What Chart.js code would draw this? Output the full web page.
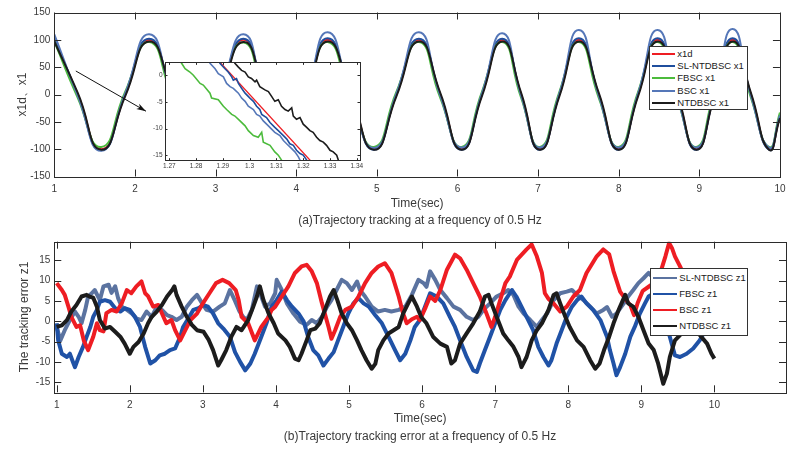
<!DOCTYPE html>
<html>
<head>
<meta charset="utf-8">
<script src="https://cdn.jsdelivr.net/npm/chart.js@4.4.1/dist/chart.umd.min.js"></script>
<style>
  body { margin: 0; background: #fff; }
  #page { position: relative; width: 792px; height: 450px; font-family: 'Liberation Sans', Arial, sans-serif; }
  canvas { position: absolute; }
  .cap { position: absolute; left: 54px; width: 732px; text-align: center; font-size: 12px; line-height: 14px; color: #3a3a3a; }
  .legend { position: absolute; background: #fff; border: 1px solid #333; box-sizing: border-box; }
  .legend .row { position: absolute; left: 0; height: 12px; width: 100%; }
  .legend .sw { position: absolute; top: 5px; height: 2px; }
  .legend .lb { position: absolute; top: 0; font-size: 9.5px; line-height: 12px; white-space: nowrap; color: #1a1a1a; }
</style>
</head>
<body>
<div id="page">
  <canvas id="top" width="792" height="225" style="left:0;top:0"></canvas>
  <canvas id="inset" width="225" height="120" style="left:140px;top:56px"></canvas>
  <div class="cap" style="top:213px">(a)Trajectory tracking at a frequency of 0.5 Hz</div>
  <canvas id="bottom" width="792" height="225" style="left:0;top:225px"></canvas>
  <div class="cap" style="top:429px">(b)Trajectory tracking error at a frequency of 0.5 Hz</div>
  <div class="legend" id="legTop" style="left:649px;top:46px;width:99px;height:64px"></div>
  <div class="legend" id="legBottom" style="left:650px;top:268px;width:98px;height:68px"></div>
</div>
<script>
// (a) x1d / x1 : knots at peaks, zero crossings and troughs
const tTop = [1.0, 1.291, 1.583, 1.88, 2.177, 2.468, 2.76, 3.053, 3.346, 3.608, 3.87, 4.13, 4.391, 4.678, 4.965, 5.244, 5.523, 5.787,
  6.052, 6.304, 6.556, 6.79, 7.023, 7.265, 7.507, 7.753, 7.999, 8.241, 8.483, 8.723, 8.963, 9.188, 9.414, 9.64, 9.865, 10.0];
const x1d = [100, 0, -100, 0, 100, 0, -100, 0, 100, 0, -100, 0, 100, 0, -100, 0, 100, 0, -100, 0, 100, 0, -100, 0,
  100, 0, -100, 0, 100, 0, -100, 0, 100, 0, -100, -40];
const slNtdbscX1 = [102, -1, -102, 1, 102, -1, -101, 1, 102, -1, -101, 1, 103, -1, -101, 1, 102, -1, -101, 1, 102, -1, -101, 1,
  103, -1, -101, 1, 103, -1, -101, 1, 103, -1, -101, -38];
const fbscX1 = [97, -6, -96, 5, 96, -6, -96, 5, 95, -6, -96, 5, 96, -6, -96, 5, 96, -6, -96, 5, 96, -6, -96, 5,
  96, -6, -96, 5, 96, -6, -96, 5, 96, -6, -96, -33];
const bscX1 = [110, -2, -103, 2, 110, -2, -98, 2, 110, -2, -98, 2, 114, -2, -98, 2, 114, -2, -97, 2, 112, -2, -97, 2,
  118, -2, -97, 2, 118, -2, -97, 2, 120, -2, -97, -38];
const ntdbscX1 = [97, 3, -101, -3, 97, 3, -101, -3, 96, 3, -101, -3, 97, 3, -101, -3, 97, 3, -101, -3, 97, 3, -101, -3,
  97, 3, -101, -3, 97, 3, -101, -3, 97, 3, -101, -43];
const xTicksTop = [1, 2, 3, 4, 5, 6, 7, 8, 9, 10];
const yTicksTop = [-150, -100, -50, 0, 50, 100, 150];

// zoomed inset, t = 1.27 .. 1.34
const insetX1d = [[1.2886, 2.6], [1.3231, -16.2]];
const insetSl = [[1.2880, 3.0], [1.2889, 2.25], [1.2908, 1.22], [1.2920, 0.60], [1.2933, -0.31], [1.2939, -0.92], [1.2951, -0.62],
  [1.2958, -1.53], [1.2970, -2.45], [1.2983, -3.36], [1.3001, -4.28], [1.3014, -4.89], [1.3026, -5.81], [1.3038, -6.42],
  [1.3045, -7.33], [1.3063, -7.94], [1.3076, -8.86], [1.3094, -9.77], [1.3107, -10.38], [1.3126, -11.30], [1.3138, -11.91],
  [1.3150, -12.83], [1.3163, -13.13], [1.3175, -14.05], [1.3188, -14.66], [1.3200, -14.96], [1.3213, -15.88], [1.3218, -16.5]];
const insetFbsc = [[1.2735, 3.0], [1.2746, 2.25], [1.2759, 1.22], [1.2777, 0.60], [1.2790, 0.00], [1.2815, -1.53], [1.2827, -1.84],
  [1.2852, -3.36], [1.2858, -4.28], [1.2883, -4.58], [1.2902, -5.80], [1.2914, -6.42], [1.2933, -7.33], [1.2945, -7.64],
  [1.2964, -8.55], [1.2983, -9.47], [1.2995, -10.38], [1.3014, -11.30], [1.3032, -11.60], [1.3045, -10.69], [1.3051, -12.52],
  [1.3076, -13.13], [1.3094, -14.35], [1.3107, -14.96], [1.3119, -15.88], [1.3125, -16.5]];
const insetBsc = [[1.2843, 3.0], [1.2852, 2.25], [1.2871, 1.22], [1.2883, 0.30], [1.2902, -0.31], [1.2914, -1.53], [1.2927, -2.14],
  [1.2939, -2.45], [1.2958, -3.36], [1.2970, -4.28], [1.2983, -4.89], [1.2995, -5.81], [1.3014, -6.42], [1.3026, -7.33],
  [1.3038, -7.64], [1.3051, -8.55], [1.3070, -9.47], [1.3082, -10.08], [1.3094, -10.69], [1.3113, -11.30], [1.3126, -12.22],
  [1.3138, -12.83], [1.3157, -13.74], [1.3169, -14.35], [1.3182, -15.27], [1.3188, -15.88], [1.3192, -16.5]];
const insetNtdbsc = [[1.2936, 3.0], [1.2945, 2.25], [1.2958, 1.52], [1.2970, 0.91], [1.2983, 0.60], [1.2995, -0.31], [1.3007, -0.62],
  [1.3020, -1.23], [1.3026, -0.92], [1.3038, -2.14], [1.3057, -2.75], [1.3070, -3.06], [1.3082, -3.97], [1.3094, -4.89],
  [1.3107, -4.58], [1.3119, -5.81], [1.3132, -6.42], [1.3144, -6.72], [1.3157, -6.11], [1.3163, -7.64], [1.3175, -8.25],
  [1.3188, -7.94], [1.3200, -9.16], [1.3213, -9.77], [1.3225, -10.38], [1.3237, -10.69], [1.3250, -11.60], [1.3262, -12.22],
  [1.3275, -12.52], [1.3287, -13.13], [1.3300, -14.05], [1.3312, -14.35], [1.3325, -14.96], [1.3331, -15.88], [1.3335, -16.5]];
const xTicksInset = [1.27, 1.28, 1.29, 1.3, 1.31, 1.32, 1.33, 1.34];
const yTicksInset = [-15, -10, -5, 0];
const arrowFrom = [1.267, 43];
const arrowTo = [2.137, -30.5];

// (b) tracking error z1
const slNtdbscZ1 = [[1.00, -1.4], [1.05, -4.7], [1.11, -2.2], [1.18, 0.3], [1.25, 2.4], [1.30, 1.1], [1.34, -0.5], [1.39, 2.8],
  [1.43, 6.1], [1.48, 6.9], [1.52, 7.7], [1.59, 5.2], [1.64, 8.6], [1.71, 9.0], [1.75, 7.0], [1.80, 8.6], [1.84, 5.7], [1.89, 3.6],
  [1.96, 2.8], [2.03, 1.9], [2.09, 0.7], [2.16, 0.3], [2.23, 2.4], [2.30, 1.1], [2.37, 3.6], [2.44, 2.8], [2.51, 1.5], [2.57, 1.1],
  [2.64, 0.3], [2.71, 1.1], [2.78, 3.6], [2.85, 5.2], [2.92, 6.5], [2.99, 4.4], [3.05, 2.8], [3.14, 2.4], [3.23, 3.6], [3.30, 4.4],
  [3.37, 7.7], [3.44, 5.0], [3.50, 2.5], [3.55, 1.1], [3.60, 0.3], [3.67, 2.8], [3.74, 8.6], [3.80, 6.1], [3.85, 3.6], [3.92, 4.4],
  [3.99, 6.9], [4.01, 10.2], [4.08, 7.7], [4.15, 4.4], [4.24, 1.9], [4.33, -0.1], [4.42, -0.9], [4.49, 0.3], [4.56, -0.5], [4.63, 1.1],
  [4.70, 3.6], [4.76, 5.2], [4.83, 7.7], [4.90, 10.2], [4.97, 9.4], [5.04, 7.7], [5.11, 9.8], [5.15, 7.7], [5.22, 6.1], [5.31, 3.6],
  [5.40, 2.4], [5.49, 2.8], [5.58, 2.4], [5.68, 2.8], [5.77, 3.6], [5.86, 6.5], [5.95, 10.2], [6.02, 9.4], [6.06, 8.5], [6.11, 12.3],
  [6.18, 10.2], [6.25, 7.7], [6.34, 5.7], [6.43, 3.6], [6.52, 2.8], [6.61, 1.1], [6.70, 0.3], [6.77, 1.1], [6.84, 2.8], [6.93, 4.4],
  [7.02, 6.1], [7.11, 6.9], [7.18, 7.7], [7.25, 6.5], [7.32, 3.6], [7.39, 1.9], [7.48, 0.3], [7.57, -1.4], [7.64, 0.3], [7.71, 1.9],
  [7.80, 5.2], [7.89, 6.9], [7.98, 7.3], [8.05, 7.7], [8.12, 6.5], [8.21, 5.2], [8.30, 3.6], [8.39, 1.9], [8.48, 2.8], [8.53, 3.5],
  [8.60, 1.1], [8.66, 1.9], [8.76, 4.4], [8.82, 6.1], [8.89, 7.7], [8.96, 9.4], [9.03, 10.6], [9.10, 11.9], [9.25, 9.0], [9.45, 6.0],
  [9.65, 4.0], [9.85, 3.0], [10.00, 3.0]];
const fbscZ1 = [[1.00, -0.5], [1.02, -4.7], [1.07, -8.0], [1.14, -8.8], [1.18, -8.0], [1.23, -10.4], [1.25, -11.3], [1.30, -8.8],
  [1.36, -6.3], [1.41, -3.8], [1.46, -1.4], [1.50, 1.1], [1.55, 2.8], [1.59, 4.8], [1.66, 5.2], [1.73, 4.8], [1.80, 3.2], [1.87, 2.4],
  [1.93, 3.2], [2.00, 2.8], [2.07, 1.1], [2.14, -1.4], [2.21, -6.3], [2.28, -10.4], [2.35, -9.6], [2.41, -8.4], [2.48, -8.0],
  [2.55, -7.1], [2.62, -6.7], [2.69, -3.8], [2.73, -1.4], [2.80, 0.7], [2.87, 2.8], [2.94, 3.2], [3.00, 4.0], [3.07, 3.6], [3.14, 1.9],
  [3.21, -0.5], [3.28, -1.8], [3.37, -3.8], [3.44, -7.6], [3.51, -10.0], [3.58, -12.1], [3.65, -10.4], [3.71, -8.0], [3.80, -3.8],
  [3.87, -0.5], [3.94, 3.6], [4.01, 5.2], [4.08, 7.3], [4.15, 5.2], [4.22, 3.6], [4.31, 1.9], [4.38, -0.1], [4.44, -3.8], [4.51, -7.1],
  [4.58, -8.4], [4.65, -10.9], [4.72, -9.2], [4.79, -7.6], [4.85, -4.7], [4.92, -1.4], [4.99, 1.9], [5.06, 4.4], [5.13, 5.7],
  [5.20, 4.4], [5.27, 3.6], [5.36, 1.5], [5.45, -0.5], [5.54, -3.8], [5.63, -7.1], [5.70, -9.6], [5.77, -8.0], [5.84, -4.7],
  [5.90, -1.4], [5.97, 0.3], [6.04, 3.6], [6.11, 6.9], [6.20, 6.1], [6.29, 4.4], [6.38, 1.1], [6.45, -1.4], [6.52, -4.7], [6.61, -8.8],
  [6.70, -12.1], [6.75, -12.5], [6.79, -10.4], [6.86, -7.1], [6.93, -3.8], [7.00, -0.5], [7.07, 2.8], [7.14, 5.2], [7.23, 7.7],
  [7.29, 6.1], [7.36, 3.6], [7.43, 1.1], [7.52, -2.2], [7.59, -6.3], [7.66, -8.8], [7.73, -10.9], [7.77, -9.6], [7.84, -5.5],
  [7.91, -2.2], [7.98, 1.1], [8.05, 3.6], [8.12, 5.2], [8.18, 6.1], [8.25, 4.4], [8.34, 2.8], [8.44, 0.3], [8.53, -3.8], [8.57, -7.1],
  [8.62, -10.4], [8.66, -13.3], [8.71, -11.3], [8.78, -8.0], [8.85, -3.8], [8.91, -1.4], [8.98, 1.9], [9.05, 4.4], [9.10, 6.1],
  [9.18, 7.0], [9.28, 3.0], [9.39, -3.8], [9.46, -8.4], [9.53, -8.8], [9.62, -8.0], [9.71, -6.7], [9.80, -4.7], [9.90, -1.5], [10.00, 1.0]];
const bscZ1 = [[1.00, 9.4], [1.07, 7.7], [1.11, 6.5], [1.16, 3.6], [1.20, 1.1], [1.27, -1.4], [1.32, -1.0], [1.37, -4.7], [1.43, -7.1],
  [1.50, -3.8], [1.55, -0.5], [1.59, -2.2], [1.64, -2.5], [1.68, 2.0], [1.75, 2.8], [1.82, 2.4], [1.89, 4.4], [1.96, 7.7], [2.02, 6.9],
  [2.09, 8.6], [2.16, 9.8], [2.21, 6.9], [2.25, 6.2], [2.32, 3.6], [2.39, 4.0], [2.46, 1.1], [2.50, -0.5], [2.57, 0.3], [2.62, -2.2],
  [2.69, -4.7], [2.76, -2.2], [2.83, 0.3], [2.92, 1.9], [3.00, 4.4], [3.09, 6.9], [3.18, 9.4], [3.27, 10.2], [3.36, 9.4], [3.45, 7.7],
  [3.49, 5.2], [3.53, 1.1], [3.62, -0.5], [3.71, -4.7], [3.80, -1.4], [3.90, 1.1], [3.94, 2.8], [3.99, 3.6], [4.08, 6.1], [4.17, 8.6],
  [4.26, 11.9], [4.35, 13.5], [4.42, 13.9], [4.49, 12.3], [4.56, 9.4], [4.63, 4.4], [4.72, -1.4], [4.76, -4.3], [4.81, -2.2],
  [4.88, 1.1], [4.95, 2.8], [5.04, 3.6], [5.13, 6.1], [5.22, 9.4], [5.31, 11.9], [5.40, 13.5], [5.49, 14.3], [5.58, 11.9], [5.68, 6.1],
  [5.74, 1.9], [5.79, -0.5], [5.86, 0.5], [5.93, 1.1], [5.97, 0.3], [6.05, 3.5], [6.11, 6.1], [6.18, 5.0], [6.25, 7.7], [6.34, 12.7],
  [6.45, 16.4], [6.52, 15.5], [6.61, 12.7], [6.70, 9.4], [6.79, 6.1], [6.88, 2.0], [6.95, -1.4], [7.00, 1.1], [7.07, 5.3], [7.14, 9.4],
  [7.20, 11.0], [7.30, 15.2], [7.43, 17.7], [7.50, 18.9], [7.57, 16.0], [7.64, 11.9], [7.68, 6.9], [7.73, 5.5], [7.80, 4.4],
  [7.89, 2.4], [7.98, 3.6], [8.07, 6.1], [8.16, 7.7], [8.25, 11.9], [8.39, 16.0], [8.48, 17.7], [8.56, 16.5], [8.62, 12.3],
  [8.71, 7.3], [8.80, 5.0], [8.85, 4.0], [8.90, 1.5], [8.95, 4.5], [9.02, 7.5], [9.10, 8.5], [9.17, 9.4], [9.26, 11.9], [9.33, 16.0],
  [9.38, 19.3], [9.42, 18.0], [9.46, 16.0], [9.53, 13.5], [9.62, 10.0], [9.72, 7.0], [9.84, 4.5], [10.00, 3.0]];
const ntdbscZ1 = [[1.00, -1.4], [1.07, -1.0], [1.14, 0.3], [1.20, 2.4], [1.27, 4.0], [1.34, 6.1], [1.41, 6.5], [1.46, 6.0],
  [1.50, 5.8], [1.55, 3.6], [1.59, 0.3], [1.66, -1.8], [1.73, -1.4], [1.80, -2.6], [1.87, -3.8], [1.93, -5.5], [2.00, -8.0],
  [2.05, -6.3], [2.12, -5.1], [2.19, -3.0], [2.25, -0.5], [2.30, 1.1], [2.37, 2.4], [2.44, 4.0], [2.51, 6.1], [2.58, 7.7], [2.61, 8.6],
  [2.64, 6.5], [2.71, 3.6], [2.78, 1.1], [2.85, -0.9], [2.92, -2.2], [3.01, -2.6], [3.08, -4.6], [3.14, -7.1], [3.21, -10.9],
  [3.25, -9.6], [3.32, -7.1], [3.39, -3.8], [3.46, -1.4], [3.53, -2.2], [3.62, 0.3], [3.69, 3.6], [3.74, 6.1], [3.78, 8.6],
  [3.83, 5.2], [3.90, 1.9], [3.97, -0.5], [4.03, -3.0], [4.13, -4.7], [4.19, -6.3], [4.26, -9.2], [4.31, -9.6], [4.35, -8.0],
  [4.42, -4.7], [4.47, -2.2], [4.54, -1.8], [4.60, -0.5], [4.67, 2.8], [4.74, 6.1], [4.79, 7.7], [4.84, 5.2], [4.90, 1.9],
  [4.97, -0.5], [5.04, -2.2], [5.11, -4.7], [5.17, -7.1], [5.24, -9.6], [5.31, -11.7], [5.36, -10.5], [5.40, -7.1], [5.47, -4.7],
  [5.54, -3.0], [5.61, -2.2], [5.68, -1.4], [5.74, 1.9], [5.81, 4.4], [5.86, 6.1], [5.93, 3.6], [5.99, 1.0], [6.06, -0.5],
  [6.15, -3.8], [6.25, -5.5], [6.34, -6.3], [6.40, -10.4], [6.45, -9.6], [6.52, -5.5], [6.61, -3.0], [6.70, -0.5], [6.79, 2.4],
  [6.86, 6.1], [6.91, 6.5], [6.95, 4.4], [7.02, 1.1], [7.11, -3.0], [7.18, -4.7], [7.25, -6.3], [7.32, -8.8], [7.36, -11.3],
  [7.43, -8.8], [7.50, -4.7], [7.57, -2.2], [7.64, -0.5], [7.73, 2.8], [7.80, 6.5], [7.84, 6.9], [7.89, 4.4], [7.96, 1.1],
  [8.02, -1.4], [8.12, -4.7], [8.21, -6.3], [8.30, -9.6], [8.37, -11.7], [8.43, -10.4], [8.49, -7.1], [8.56, -3.8], [8.62, -0.5],
  [8.69, 2.8], [8.78, 6.5], [8.82, 4.4], [8.89, 3.6], [8.96, 1.1], [9.03, -2.2], [9.10, -5.5], [9.17, -7.1], [9.23, -10.4],
  [9.30, -15.4], [9.35, -12.9], [9.39, -8.8], [9.46, -4.7], [9.51, -3.8], [9.60, -2.0], [9.70, -1.0], [9.80, -3.4], [9.90, -5.5],
  [9.96, -8.0], [10.00, -9.2]];
const xTicksBottom = [1, 2, 3, 4, 5, 6, 7, 8, 9, 10];
const yTicksBottom = [-15, -10, -5, 0, 5, 10, 15];

const TEXT = '#3a3a3a';
const RED = '#ee1d23', BLACK = '#1c1c1c', GREEN = '#4cbb3c';
const topNames = ['x1d', 'SL-NTDBSC x1', 'FBSC x1', 'BSC x1', 'NTDBSC x1'];
const topColors = [RED, '#1f4e9d', GREEN, '#5577b8', BLACK];
const bottomNames = ['SL-NTDBSC z1', 'FBSC z1', 'BSC z1', 'NTDBSC z1'];
const bottomColors = ['#5b73a0', '#2052a6', RED, BLACK];

Chart.defaults.font.family = "'Liberation Sans', Arial, sans-serif";
Chart.defaults.animation = false;

// box with inward ticks on all four sides, like the original axes
const framePlugin = {
  id: 'frame',
  beforeDraw(chart, args, opts) {
    if (!opts.fill) return;
    const { ctx, chartArea: a } = chart;
    ctx.save();
    ctx.fillStyle = opts.fill;
    ctx.fillRect(a.left, a.top, a.right - a.left, a.bottom - a.top);
    ctx.restore();
  },
  afterDraw(chart, args, opts) {
    const { ctx, chartArea: a, scales: { x, y } } = chart;
    const len = opts.len;
    ctx.save();
    ctx.strokeStyle = '#2b2b2b';
    ctx.lineWidth = 1;
    ctx.beginPath();
    x.ticks.forEach(t => {
      const px = Math.round(x.getPixelForValue(t.value)) + 0.5;
      ctx.moveTo(px, a.bottom); ctx.lineTo(px, a.bottom - len);
      ctx.moveTo(px, a.top); ctx.lineTo(px, a.top + len);
    });
    y.ticks.forEach(t => {
      const py = Math.round(y.getPixelForValue(t.value)) + 0.5;
      ctx.moveTo(a.left, py); ctx.lineTo(a.left + len, py);
      ctx.moveTo(a.right, py); ctx.lineTo(a.right - len, py);
    });
    ctx.stroke();
    ctx.strokeRect(Math.round(a.left) + 0.5, Math.round(a.top) + 0.5, Math.round(a.right - a.left), Math.round(a.bottom - a.top));
    ctx.restore();
  }
};

const arrowPlugin = {
  id: 'arrow',
  afterDraw(chart) {
    const { ctx, scales: { x, y } } = chart;
    const x0 = x.getPixelForValue(arrowFrom[0]), y0 = y.getPixelForValue(arrowFrom[1]);
    const x1 = x.getPixelForValue(arrowTo[0]), y1 = y.getPixelForValue(arrowTo[1]);
    const ang = Math.atan2(y1 - y0, x1 - x0);
    ctx.save();
    ctx.strokeStyle = '#111';
    ctx.fillStyle = '#111';
    ctx.lineWidth = 1;
    ctx.beginPath(); ctx.moveTo(x0, y0); ctx.lineTo(x1, y1); ctx.stroke();
    ctx.beginPath();
    ctx.moveTo(x1, y1);
    ctx.lineTo(x1 - 10 * Math.cos(ang - 0.3), y1 - 10 * Math.sin(ang - 0.3));
    ctx.lineTo(x1 - 7 * Math.cos(ang), y1 - 7 * Math.sin(ang));
    ctx.lineTo(x1 - 10 * Math.cos(ang + 0.3), y1 - 10 * Math.sin(ang + 0.3));
    ctx.closePath();
    ctx.fill();
    ctx.restore();
  }
};

function scales(c) {
  return {
    x: {
      type: 'linear', bounds: 'data', min: c.xMin, max: c.xMax,
      afterBuildTicks: s => { s.ticks = c.xTicks.map(v => ({ value: v })); },
      afterFit: s => { s.height = c.xHeight; },
      grid: { display: false, drawTicks: false }, border: { display: false },
      ticks: { font: { size: c.tickSize }, color: TEXT, padding: c.xPad, maxRotation: 0, autoSkip: false, callback: v => String(v) },
      title: c.xTitle ? { display: true, text: c.xTitle, color: TEXT, font: { size: 12 }, padding: { top: 0, bottom: c.xTitlePad } } : { display: false }
    },
    y: {
      type: 'linear', bounds: 'data', min: c.yMin, max: c.yMax,
      afterBuildTicks: s => { s.ticks = c.yTicks.map(v => ({ value: v })); },
      afterFit: s => { s.width = c.yWidth; },
      grid: { display: false, drawTicks: false }, border: { display: false },
      ticks: { font: { size: c.tickSize }, color: TEXT, padding: c.yPad, autoSkip: false, callback: v => String(v) },
      title: c.yTitle ? { display: true, text: c.yTitle, color: TEXT, font: { size: 12 }, padding: { top: c.yTitlePad, bottom: 0 } } : { display: false }
    }
  };
}

const basePlugins = { legend: { display: false }, tooltip: { enabled: false } };

// (a) main chart
new Chart(document.getElementById('top'), {
  type: 'line',
  data: {
    datasets: [x1d, slNtdbscX1, fbscX1, bscX1, ntdbscX1].map((vals, i) => ({
      label: topNames[i],
      data: tTop.map((t, k) => ({ x: t, y: vals[k] })),
      borderColor: topColors[i], borderWidth: 2, tension: 0.55, order: 5 - i
    }))
  },
  options: {
    responsive: false, devicePixelRatio: 1,
    layout: { padding: { left: 0, right: 6, top: 12.5, bottom: 0 } },
    elements: { point: { radius: 0 } },
    scales: scales({ xMin: 1, xMax: 10, xTicks: xTicksTop, xHeight: 48.5, xPad: 6.5, xTitle: 'Time(sec)', xTitlePad: 14.5,
      yMin: -150, yMax: 150, yTicks: yTicksTop, yWidth: 54.3, yPad: 4, yTitle: 'x1d、x1', yTitlePad: 15.5, tickSize: 10 }),
    plugins: { ...basePlugins, frame: { len: 7 } }
  },
  plugins: [framePlugin, arrowPlugin]
});

// zoomed inset
new Chart(document.getElementById('inset'), {
  type: 'line',
  data: {
    datasets: [insetX1d, insetSl, insetFbsc, insetBsc, insetNtdbsc].map((pts, i) => ({
      label: topNames[i],
      data: pts.map(([x, y]) => ({ x, y })),
      borderColor: topColors[i], borderWidth: i === 0 ? 1.3 : 1.6, tension: 0, order: 5 - i
    }))
  },
  options: {
    responsive: false, devicePixelRatio: 1,
    layout: { padding: { left: 0, right: 5, top: 4, bottom: 0 } },
    elements: { point: { radius: 0 } },
    scales: scales({ xMin: 1.2684, xMax: 1.3412, xTicks: xTicksInset, xHeight: 15.3, xPad: 1.4,
      yMin: -16, yMax: 2.4, yTicks: yTicksInset, yWidth: 25, yPad: 2.5, tickSize: 6.5 }),
    plugins: { ...basePlugins, frame: { len: 2.5, fill: '#fff' } }
  },
  plugins: [framePlugin]
});

// (b) tracking error
new Chart(document.getElementById('bottom'), {
  type: 'line',
  data: {
    datasets: [slNtdbscZ1, fbscZ1, bscZ1, ntdbscZ1].map((pts, i) => ({
      label: bottomNames[i],
      data: pts.map(([x, y]) => ({ x, y })),
      borderColor: bottomColors[i], borderWidth: 4, borderJoinStyle: 'round', tension: 0, order: 4 - i
    }))
  },
  options: {
    responsive: false, devicePixelRatio: 1,
    layout: { padding: { left: 0, right: 6, top: 16.7, bottom: 0 } },
    elements: { point: { radius: 0 } },
    scales: scales({ xMin: 0.967, xMax: 10.98, xTicks: xTicksBottom, xHeight: 57.7, xPad: 6.7, xTitle: 'Time(sec)', xTitlePad: 24.5,
      yMin: -17.5, yMax: 19.6, yTicks: yTicksBottom, yWidth: 54.3, yPad: 4, yTitle: 'The tracking error z1', yTitlePad: 17.8, tickSize: 10 }),
    plugins: { ...basePlugins, frame: { len: 7 } }
  },
  plugins: [framePlugin]
});

// legends drawn as plain boxes over the plots
function buildLegend(id, names, colors, boxTop, firstCenter, step, swLeft, swWidth, textLeft) {
  const box = document.getElementById(id);
  names.forEach((name, i) => {
    const row = document.createElement('div');
    row.className = 'row';
    row.style.top = (firstCenter + i * step - boxTop - 1 - 6) + 'px';
    const sw = document.createElement('div');
    sw.className = 'sw';
    sw.style.left = swLeft + 'px';
    sw.style.width = swWidth + 'px';
    sw.style.background = colors[i];
    const lb = document.createElement('div');
    lb.className = 'lb';
    lb.style.left = textLeft + 'px';
    lb.textContent = name;
    row.appendChild(sw);
    row.appendChild(lb);
    box.appendChild(row);
  });
}
buildLegend('legTop', topNames, topColors, 46, 54.2, 12.1, 1.7, 23.3, 27.3);
buildLegend('legBottom', bottomNames, bottomColors, 268, 278.3, 15.9, 1.7, 24, 28.3);
</script>
</body>
</html>
